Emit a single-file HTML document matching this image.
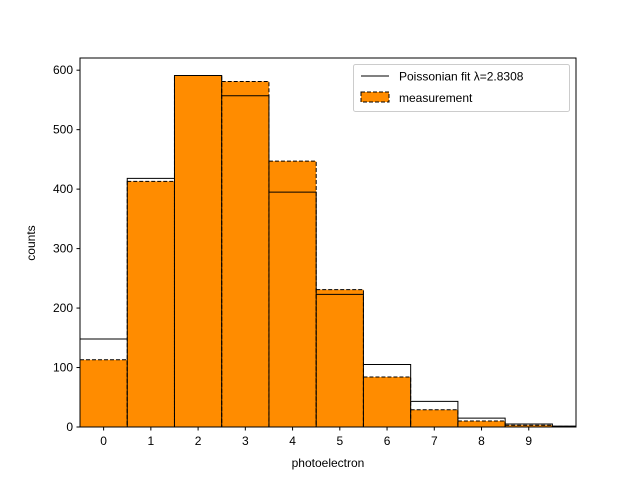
<!DOCTYPE html>
<html><head><meta charset="utf-8"><style>
body{margin:0;background:#fff}
svg{display:block;font-family:"Liberation Sans","DejaVu Sans",sans-serif}
</style></head><body>
<svg id="chart" width="640" height="480">
<defs><clipPath id="plotclip"><rect x="80" y="58" width="496" height="369"/></clipPath></defs>
<g id="plot" clip-path="url(#plotclip)"></g>
</svg>
<script>
const categories=[0,1,2,3,4,5,6,7,8,9,10];
const measurement=[113,413,591,581,447,231,84,29,10,3,1];
const poissonFit=[148,418,591,557,395,223,105,43,15,5,1.5];
const yTicks=[0,100,200,300,400,500,600];
const xTicks=[0,1,2,3,4,5,6,7,8,9];
const NS="http://www.w3.org/2000/svg";
const svg=document.getElementById('chart');
const plot=document.getElementById('plot');
const L=80,R=576,T=58,B=427;
const xMin=-0.5,xMax=10,yMax=620.5;
const xs=v=>L+(v-xMin)/(xMax-xMin)*(R-L);
const ys=v=>B-v/yMax*(B-T);
function mk(t,a,p){const e=document.createElementNS(NS,t);for(const k in a)e.setAttribute(k,a[k]);(p||svg).appendChild(e);return e;}
categories.forEach((c,i)=>{
 const r=mk('rect',{x:xs(c-0.5),y:ys(measurement[i]),width:xs(c+0.5)-xs(c-0.5),height:B-ys(measurement[i]),fill:'#ff8c00',stroke:'#000','stroke-width':1,'stroke-dasharray':'4,2'},plot);
 
 
});
let d='M'+xs(categories[0]-0.5)+','+B;
categories.forEach((c,i)=>{d+=' L'+xs(c-0.5)+','+ys(poissonFit[i])+' L'+xs(c+0.5)+','+ys(poissonFit[i]);});
d+=' L'+xs(categories[categories.length-1]+0.5)+','+B;
categories.forEach((c,i)=>{if(i>0)d+=' M'+xs(c-0.5)+','+B+' L'+xs(c-0.5)+','+ys(Math.min(poissonFit[i],poissonFit[i-1]));});
const fit=mk('path',{d:d,fill:'none',stroke:'#000','stroke-width':1},plot);


const fr=mk('rect',{x:L,y:T,width:R-L,height:B-T,fill:'none',stroke:'#000','stroke-width':1});


yTicks.forEach(v=>{
 mk('line',{x1:L-3.5,x2:L,y1:ys(v),y2:ys(v),stroke:'#000'});
 const t=mk('text',{x:L-7,y:ys(v)+4,'text-anchor':'end','font-size':12});t.textContent=v;
 
 
});
xTicks.forEach(v=>{
 mk('line',{x1:xs(v),x2:xs(v),y1:B,y2:B+3.5,stroke:'#000'});
 const t=mk('text',{x:xs(v),y:B+18,'text-anchor':'middle','font-size':12});t.textContent=v;
 
 
});
</script>
<svg style="position:absolute;left:0;top:0" width="640" height="480">
<text x="328" y="467" text-anchor="middle" font-size="12" style="font-family:'Liberation Sans','DejaVu Sans',sans-serif">photoelectron</text>
<text x="35" y="243" text-anchor="middle" font-size="12" transform="rotate(-90 35 243)" style="font-family:'Liberation Sans','DejaVu Sans',sans-serif">counts</text>
<g>
<rect x="353.5" y="64.5" width="216" height="47" rx="2" fill="#fff" fill-opacity="0.8" stroke="#ccc"/>
<line x1="361" x2="389" y1="76" y2="76" stroke="#000"/>
<text x="399" y="80.5" font-size="12" style="font-family:'Liberation Sans','DejaVu Sans',sans-serif">Poissonian fit λ=2.8308</text>
<rect x="361" y="92" width="28" height="10" fill="#ff8c00" stroke="#000" stroke-dasharray="4,2"/>
<text x="399" y="102" font-size="12" style="font-family:'Liberation Sans','DejaVu Sans',sans-serif">measurement</text>
</g>
</svg>
</body></html>
